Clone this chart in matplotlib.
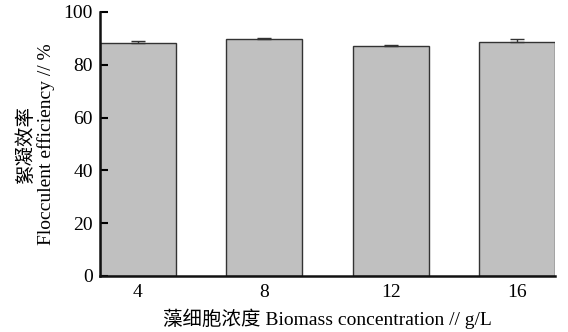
import matplotlib
matplotlib.use("Agg")
import matplotlib.pyplot as plt
import numpy as np

categories = ["4", "8", "12", "16"]
values = [88.3, 89.6, 87.1, 88.8]
errors = [0.6, 0.4, 0.5, 1.0]
yticks = [0, 20, 40, 60, 80, 100]

plt.rcParams['font.family'] = ['Liberation Serif', 'Noto Sans CJK SC']

fig = plt.figure(figsize=(5.68, 3.32), dpi=100)
ax = fig.add_axes([0.176, 0.169, 0.801, 0.795])

x = np.arange(len(categories))
ax.bar(x, values, width=0.6, color='#c0c0c0', edgecolor='#333333', linewidth=1.0,
       yerr=[[0]*len(errors), errors], error_kw=dict(ecolor='#333333', elinewidth=1.0, capsize=5, capthick=1.0))

ax.set_xlim(-0.3, 3.3)
ax.set_ylim(0, 100)
ax.set_yticks(yticks)
ax.set_xticks(x)
ax.set_xticklabels(categories)
ax.tick_params(axis='y', direction='in', length=6, width=1.5, labelsize=14, pad=5)
ax.tick_params(axis='x', length=0, labelsize=14, pad=6)
for s in ['top', 'right']:
    ax.spines[s].set_visible(False)
for s in ['left', 'bottom']:
    ax.spines[s].set_linewidth(1.8)
    ax.spines[s].set_color('#111111')

ax.set_ylabel("絮凝效率\nFlocculent efficiency // %", fontsize=14, labelpad=6, linespacing=1.2)
ax.set_xlabel("藻细胞浓度 Biomass concentration // g/L", fontsize=14, labelpad=5)

fig.savefig("out.png", dpi=100)
